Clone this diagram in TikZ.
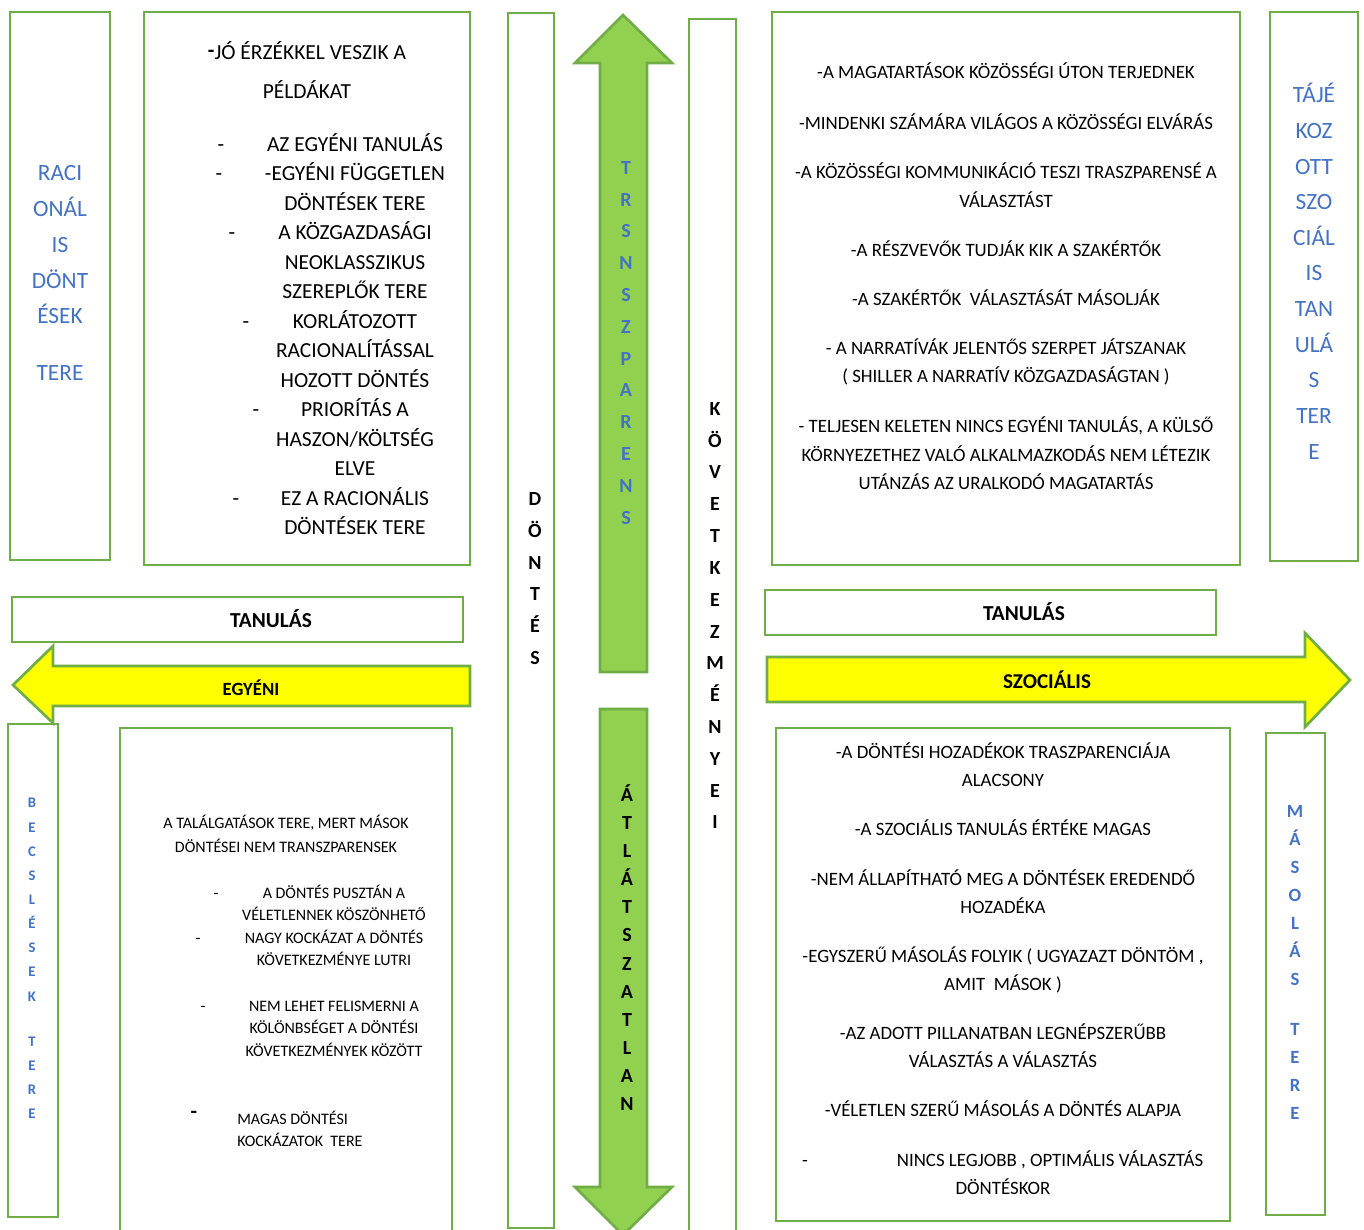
\documentclass[tikz,border=0pt]{standalone}
\usepackage{fontspec}
\setmainfont{Carlito}
\definecolor{gline}{HTML}{70AD47}
\definecolor{gfill}{HTML}{92D050}
\definecolor{tblue}{HTML}{4472C4}
\definecolor{yel}{HTML}{FFFF00}
\begin{document}
\begin{tikzpicture}[x=0.75pt,y=-0.75pt,
  box/.style={draw=gline,line width=2.2pt,fill=white},
  garrow/.style={draw=gline,line width=2pt,fill=gfill,line join=miter},
  yarrow/.style={draw=gline,line width=2pt,fill=yel,line join=miter},
  tl/.style={font=\fontsize{16.1}{19}\selectfont,anchor=base,yshift=-5.2pt,inner sep=0pt},
  tr/.style={font=\fontsize{14.15}{17}\selectfont,anchor=base,yshift=-4.5pt,inner sep=0pt},
  bl/.style={font=\fontsize{12}{14}\selectfont,anchor=base,yshift=-3.9pt,inner sep=0pt},
  bbig/.style={font=\fontsize{17.5}{20}\selectfont,text=tblue,anchor=base,yshift=-5.6pt,inner sep=0pt},
  vb/.style={font=\bfseries\fontsize{15}{17}\selectfont,anchor=base,yshift=-4.8pt,inner sep=0pt},
  vbs/.style={font=\bfseries\fontsize{11}{13}\selectfont,text=tblue,anchor=base,yshift=-3.5pt,inner sep=0pt},
  vbm/.style={font=\bfseries\fontsize{14}{16}\selectfont,text=tblue,anchor=base,yshift=-4.5pt,inner sep=0pt},
  hb/.style={font=\bfseries\fontsize{16}{19}\selectfont,anchor=base,yshift=-5.2pt,inner sep=0pt},
  hbs/.style={font=\bfseries\fontsize{14}{17}\selectfont,anchor=base,yshift=-4.5pt,inner sep=0pt}
]
\useasboundingbox (0,0) rectangle (1364,1230);
\fill[white] (0,0) rectangle (1364,1230);

% ---------- boxes ----------
\draw[box] (10,12) rectangle (110,560);
\draw[box] (144,12) rectangle (470,565);
\draw[box] (508,13) rectangle (554,1228);
\draw[box] (689,19) rectangle (736,1240);
\draw[box] (772,12) rectangle (1240,565);
\draw[box] (1270,12) rectangle (1358,561);
\draw[box] (12,597) rectangle (463,642);
\draw[box] (765,590) rectangle (1216,635);
\draw[box] (8,724) rectangle (58,1217);
\draw[box] (120,728) rectangle (452,1240);
\draw[box] (776,728) rectangle (1230,1221);
\draw[box] (1266,733) rectangle (1325,1215);

% ---------- green arrows ----------
\draw[garrow] (600,672) -- (600,63) -- (575,63) -- (623,15) -- (672,63) -- (647,63) -- (647,672) -- cycle;
\draw[garrow] (600,709) -- (647,709) -- (647,1187) -- (672,1187) -- (623,1235) -- (575,1187) -- (600,1187) -- cycle;

% ---------- yellow arrows ----------
\draw[yarrow] (470,666) -- (470,706) -- (53,706) -- (53,723) -- (13,685) -- (53,646) -- (53,666) -- cycle;
\draw[yarrow] (767,657) -- (1305,657) -- (1305,633) -- (1350,680) -- (1305,727) -- (1305,702) -- (767,702) -- cycle;

% ---------- headings ----------
\node[hb] (tanL) at (271,621) {TANULÁS};
\node[hb] (tanR) at (1024,614) {TANULÁS};
\node[hbs] (egyeni) at (251,689) {EGYÉNI};
\node[font=\bfseries\fontsize{15.8}{18}\selectfont,anchor=base,yshift=-5.1pt,inner sep=0pt] (szoc) at (1047,682) {SZOCIÁLIS};

% ---------- blue side labels ----------
\foreach \w/\yy [count=\i] in {RACI/173,ONÁL/209,IS/245,DÖNT/281,ÉSEK/316,TERE/373}
  \node[bbig] (rac\i) at (60,\yy) {\w};
\foreach \w/\yy [count=\i] in {TÁJÉ/95,KOZ/131,OTT/167,SZO/202,CIÁL/238,IS/273,TAN/309,ULÁ/345,S/380,TER/416,E/452}
  \node[bbig] (taj\i) at (1314,\yy) {\w};
\foreach \c/\yy [count=\i] in {B/803,E/828,C/852,S/876,L/900,É/924,S/948,E/972,K/997,T/1042,E/1066,R/1090,E/1114}
  \node[vbs] (becs\i) at (32,\yy) {\c};
\foreach \c/\yy [count=\i] in {M/811,Á/839,S/867,O/895,L/923,Á/951,S/979,T/1029,E/1057,R/1085,E/1113}
  \node[vbm] (mas\i) at (1295,\yy) {\c};

% ---------- vertical words ----------
\foreach \c [count=\i from 0] in {D,Ö,N,T,É,S}
  \node[vb] (dont\i) at (535,{499+\i*31.8}) {\c};
\foreach \c [count=\i from 0] in {T,R,S,N,S,Z,P,A,R,E,N,S}
  \node[vb,text=tblue] (trs\i) at (626,{168+\i*31.8}) {\c};
\foreach \c [count=\i from 0] in {Á,T,L,Á,T,S,Z,A,T,L,A,N}
  \node[vb] (atl\i) at (627,{795+\i*28.1}) {\c};
\foreach \c [count=\i from 0] in {K,Ö,V,E,T,K,E,Z,M,É,N,Y,E,I}
  \node[vb] (kov\i) at (715,{409+\i*31.8}) {\c};

% ---------- top-left text ----------
\node[tl] (tl0) at (307,53) {\raisebox{2pt}{\textbf{-}}JÓ ÉRZÉKKEL VESZIK A};
\node[tl] (tl00) at (307,92) {PÉLDÁKAT};
\node[tl] (tld1) at (221,145) {-};
\node[tl] (tld2) at (219,174) {-};
\node[tl] (tld3) at (232,233) {-};
\node[tl] (tld4) at (246,322) {-};
\node[tl] (tld5) at (256,410) {-};
\node[tl] (tld6) at (236,499) {-};
\node[tl] (tl1) at (355,145) {AZ EGYÉNI TANULÁS};
\node[tl] (tl2) at (355,174) {-EGYÉNI FÜGGETLEN};
\node[tl] (tl3) at (355,204) {DÖNTÉSEK TERE};
\node[tl] (tl4) at (355,233) {A KÖZGAZDASÁGI};
\node[tl] (tl5) at (355,263) {NEOKLASSZIKUS};
\node[tl] (tl6) at (355,292) {SZEREPLŐK TERE};
\node[tl] (tl7) at (355,322) {KORLÁTOZOTT};
\node[tl] (tl8) at (355,351) {RACIONALÍTÁSSAL};
\node[tl] (tl9) at (355,381) {HOZOTT DÖNTÉS};
\node[tl] (tl10) at (355,410) {PRIORÍTÁS A};
\node[tl] (tl11) at (355,440) {HASZON/KÖLTSÉG};
\node[tl] (tl12) at (355,469) {ELVE};
\node[tl] (tl13) at (355,499) {EZ A RACIONÁLIS};
\node[tl] (tl14) at (355,528) {DÖNTÉSEK TERE};

% ---------- top-right text ----------
\node[tr] (tr1) at (1006,73) {-A MAGATARTÁSOK KÖZÖSSÉGI ÚTON TERJEDNEK};
\node[tr] (tr2) at (1006,124) {-MINDENKI SZÁMÁRA VILÁGOS A KÖZÖSSÉGI ELVÁRÁS};
\node[tr] (tr3) at (1006,173) {-A KÖZÖSSÉGI KOMMUNIKÁCIÓ TESZI TRASZPARENSÉ A};
\node[tr] (tr4) at (1006,202) {VÁLASZTÁST};
\node[tr] (tr5) at (1006,251) {-A RÉSZVEVŐK TUDJÁK KIK A SZAKÉRTŐK};
\node[tr] (tr6) at (1006,300) {-A SZAKÉRTŐK\ \ VÁLASZTÁSÁT MÁSOLJÁK};
\node[tr] (tr7) at (1006,349) {- A NARRATÍVÁK JELENTŐS SZERPET JÁTSZANAK};
\node[tr] (tr8) at (1006,377) {( SHILLER A NARRATÍV KÖZGAZDASÁGTAN )};
\node[tr] (tr9) at (1006,427) {- TELJESEN KELETEN NINCS EGYÉNI TANULÁS, A KÜLSŐ};
\node[tr] (tr10) at (1006,455) {KÖRNYEZETHEZ VALÓ ALKALMAZKODÁS NEM LÉTEZIK};
\node[tr] (tr11) at (1006,483) {UTÁNZÁS AZ URALKODÓ MAGATARTÁS};

% ---------- bottom-left text ----------
\node[bl] (bl1) at (286,823) {A TALÁLGATÁSOK TERE, MERT MÁSOK};
\node[bl] (bl2) at (286,847) {DÖNTÉSEI NEM TRANSZPARENSEK};
\node[bl] (bld1) at (216,893) {-};
\node[bl] (bl3) at (334,893) {A DÖNTÉS PUSZTÁN A};
\node[bl] (bl4) at (334,915) {VÉLETLENNEK KÖSZÖNHETŐ};
\node[bl] (bld2) at (198,938) {-};
\node[bl] (bl5) at (334,938) {NAGY KOCKÁZAT A DÖNTÉS};
\node[bl] (bl6) at (334,960) {KÖVETKEZMÉNYE LUTRI};
\node[bl] (bld3) at (203,1006) {-};
\node[bl] (bl7) at (334,1006) {NEM LEHET FELISMERNI A};
\node[bl] (bl8) at (334,1028) {KÖLÖNBSÉGET A DÖNTÉSI};
\node[bl] (bl9) at (334,1051) {KÖVETKEZMÉNYEK KÖZÖTT};
\node[font=\bfseries\fontsize{16}{18}\selectfont,anchor=base,yshift=-2pt,inner sep=0pt] (bld4) at (194,1116) {-};
\node[bl,anchor=base west] (bl10) at (237,1119) {MAGAS DÖNTÉSI};
\node[bl,anchor=base west] (bl11) at (237,1141) {KOCKÁZATOK\ \ TERE};

% ---------- bottom-right text ----------
\node[tr] (br1) at (1003,752) {-A DÖNTÉSI HOZADÉKOK TRASZPARENCIÁJA};
\node[tr] (br2) at (1003,780) {ALACSONY};
\node[tr] (br3) at (1003,829) {-A SZOCIÁLIS TANULÁS ÉRTÉKE MAGAS};
\node[tr] (br4) at (1003,879) {-NEM ÁLLAPÍTHATÓ MEG A DÖNTÉSEK EREDENDŐ};
\node[tr] (br5) at (1003,907) {HOZADÉKA};
\node[tr] (br6) at (1003,956) {-EGYSZERŰ MÁSOLÁS FOLYIK ( UGYAZAZT DÖNTÖM ,};
\node[tr] (br7) at (1003,984) {AMIT\ \ MÁSOK )};
\node[tr] (br8) at (1003,1033) {-AZ ADOTT PILLANATBAN LEGNÉPSZERŰBB};
\node[tr] (br9) at (1003,1061) {VÁLASZTÁS A VÁLASZTÁS};
\node[tr] (br10) at (1003,1110) {-VÉLETLEN SZERŰ MÁSOLÁS A DÖNTÉS ALAPJA};
\node[tr] (brd1) at (805,1160) {-};
\node[tr] (br11) at (1050,1160) {NINCS LEGJOBB , OPTIMÁLIS VÁLASZTÁS};
\node[tr] (br12) at (1003,1188) {DÖNTÉSKOR};
\end{tikzpicture}
\end{document}
